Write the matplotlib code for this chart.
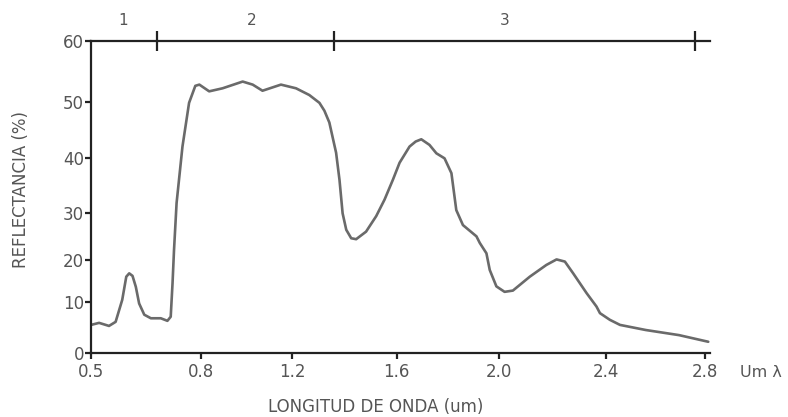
import numpy as np
import matplotlib
matplotlib.use("Agg")
import matplotlib.pyplot as plt

# spectral reflectance of green vegetation
wavelength = [0.500, 0.522, 0.549, 0.567, 0.585, 0.596, 0.604, 0.613, 0.622, 0.631,
              0.645, 0.663, 0.690, 0.708, 0.717, 0.722, 0.726, 0.733, 0.749, 0.767,
              0.784, 0.795, 0.835, 0.894, 0.982, 1.026, 1.069, 1.150, 1.214, 1.265,
              1.304, 1.323, 1.342, 1.368, 1.381, 1.393, 1.407, 1.426, 1.445, 1.483,
              1.522, 1.554, 1.586, 1.612, 1.651, 1.675, 1.697, 1.729, 1.756, 1.788,
              1.815, 1.834, 1.860, 1.913, 1.926, 1.952, 1.965, 1.991, 2.022, 2.053,
              2.116, 2.178, 2.216, 2.247, 2.278, 2.328, 2.365, 2.378, 2.416, 2.457,
              2.561, 2.695, 2.813]
reflectance = [5.5, 5.9, 5.3, 6.1, 10.5, 16.0, 16.8, 16.2, 13.6, 9.7,
               7.5, 6.8, 6.8, 6.3, 7.1, 14.5, 22.1, 31.8, 42.0, 49.8,
               52.6, 52.8, 51.7, 52.2, 53.3, 52.8, 51.8, 52.8, 52.2, 51.1,
               49.8, 48.4, 46.3, 40.9, 36.0, 29.9, 26.4, 24.6, 24.4, 26.0,
               29.3, 32.4, 36.0, 39.1, 42.0, 42.9, 43.3, 42.3, 40.8, 39.9,
               37.2, 30.5, 27.4, 25.0, 23.6, 21.4, 17.6, 13.7, 12.4, 12.7,
               16.0, 18.8, 20.1, 19.6, 16.8, 12.1, 9.1, 7.8, 6.5, 5.5,
               4.5, 3.5, 2.2]

x_ticks = [0.5, 0.8, 1.2, 1.6, 2.0, 2.4, 2.8]
x_tick_labels = ["0.5", "0.8", "1.2", "1.6", "2.0", "2.4", "2.8"]
y_ticks = [0, 10, 20, 30, 40, 50, 60]

band_edges = [0.68, 1.36, 2.76]
band_names = ["1", "2", "3"]
band_centers = [0.587, 1.02, 2.022]

# the axes of the original drawing are not evenly spaced,
# so each one gets a piecewise-linear scale
x_tick_pos = [0, 110, 201, 305, 407, 514, 613]
y_tick_pos = [0, 51, 93, 140, 195, 251, 312]


def piecewise(v, xp, fp):
    v = np.asarray(v, dtype=float)
    s0 = (fp[1] - fp[0]) / (xp[1] - xp[0])
    s1 = (fp[-1] - fp[-2]) / (xp[-1] - xp[-2])
    return np.where(v < xp[0], fp[0] + (v - xp[0]) * s0,
                    np.where(v > xp[-1], fp[-1] + (v - xp[-1]) * s1,
                             np.interp(v, xp, fp)))


x_fwd = lambda v: piecewise(v, x_ticks, x_tick_pos)
x_inv = lambda v: piecewise(v, x_tick_pos, x_ticks)
y_fwd = lambda v: piecewise(v, y_ticks, y_tick_pos)
y_inv = lambda v: piecewise(v, y_tick_pos, y_ticks)

text_col = "#555555"
axis_col = "#222222"
plt.rcParams["font.family"] = ["DejaVu Sans"]

fig = plt.figure(figsize=(7.88, 4.17), dpi=100)
ax = fig.add_axes([0.1155, 0.1535, 0.7855, 0.749])

ax.set_xscale("function", functions=(x_fwd, x_inv))
ax.set_yscale("function", functions=(y_fwd, y_inv))

ax.plot(wavelength, reflectance, color="#6a6a6a", lw=1.9,
        solid_joinstyle="round", solid_capstyle="round")

ax.set_xlim(0.5, 2.82)
ax.set_ylim(0, 60)

ax.set_xticks(x_ticks)
ax.set_xticklabels(x_tick_labels)
ax.set_yticks(y_ticks)
ax.tick_params(axis="both", colors=axis_col, labelcolor=text_col,
               labelsize=12, width=1.6, length=4, direction="out")
ax.tick_params(axis="x", pad=3)
ax.tick_params(axis="y", pad=1)

for side in ["left", "bottom", "top"]:
    ax.spines[side].set_color(axis_col)
    ax.spines[side].set_linewidth(1.6)
ax.spines["right"].set_visible(False)

# band divisions along the top border
ax.plot(band_edges, [60] * len(band_edges), ls="none", marker="|", ms=15,
        mew=1.6, color=axis_col, clip_on=False)
for xc, name in zip(band_centers, band_names):
    ax.text(xc, 62, name, ha="center", va="bottom", fontsize=11, color=text_col)

ax.set_ylabel("REFLECTANCIA (%)", fontsize=12, color=text_col)
ax.yaxis.set_label_coords(-0.098, 0.525)
ax.set_xlabel("LONGITUD DE ONDA (um)", fontsize=12, color=text_col)
ax.xaxis.set_label_coords(0.46, -0.145)
ax.text(1.048, -0.064, "Um λ", transform=ax.transAxes, ha="left", va="center",
        fontsize=11.5, color=text_col)

fig.savefig("out.png", dpi=100, facecolor="white")
